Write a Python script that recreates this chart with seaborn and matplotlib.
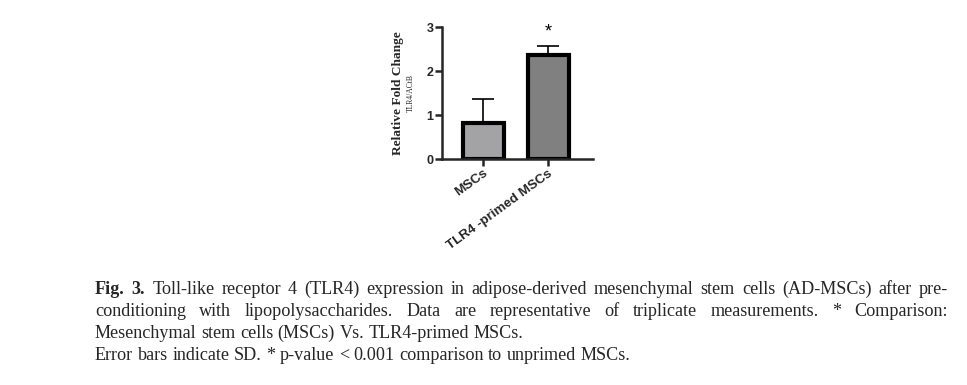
import numpy as np
import pandas as pd
import matplotlib
matplotlib.use("Agg")
import matplotlib.pyplot as plt
import seaborn as sns

# data
groups = ["MSCs", "TLR4 -primed MSCs"]
fold_change = [0.82, 2.37]
sd = [0.54, 0.20]
bar_colors = ["#a2a2a6", "#808080"]
stars = ["", "*"]

caption_lines = [
    "Toll-like receptor 4 (TLR4) expression in adipose-derived mesenchymal stem cells (AD-MSCs) after pre-",
    "conditioning with lipopolysaccharides. Data are representative of triplicate measurements. * Comparison:",
    "Mesenchymal stem cells (MSCs) Vs. TLR4-primed MSCs.",
    "Error bars indicate SD. * p-value < 0.001 comparison to unprimed MSCs.",
]
caption_prefix = "Fig. 3."

df = pd.DataFrame({"group": groups, "value": fold_change})

sns.set_style("ticks")
plt.rcParams["font.family"] = ["Liberation Sans", "DejaVu Sans"]

W, H = 967, 385
fig = plt.figure(figsize=(W / 100, H / 100), dpi=100)
fig.patch.set_facecolor("white")

ax = fig.add_axes([442 / W, (H - 159) / H, (593 - 442) / W, (159 - 27) / H])
sns.barplot(data=df, x="group", y="value", hue="group", palette=bar_colors,
            width=0.63, edgecolor="black", linewidth=3, legend=False, ax=ax)
ax.errorbar(range(len(groups)), fold_change, yerr=[np.zeros(len(sd)), sd],
            fmt="none", ecolor="black", elinewidth=1.2, capsize=8, capthick=1.2, zorder=1)
for i, s in enumerate(stars):
    if s:
        ax.text(i, fold_change[i] + sd[i] + 0.12, s, ha="center", va="bottom",
                fontsize=13, color="black")

ax.set_xlim(-0.63, 1.69)
ax.set_ylim(0, 3)
ax.set_yticks([0, 1, 2, 3])
sns.despine(ax=ax)
for sp in ["left", "bottom"]:
    ax.spines[sp].set_linewidth(1.8)
ax.tick_params(axis="both", width=1.8, length=5, labelsize=9, pad=1)
for lab in ax.get_yticklabels():
    lab.set_fontweight("bold")
ax.set_xticks(range(len(groups)))
ax.set_xticklabels(groups, rotation=36, ha="right", rotation_mode="anchor",
                   fontweight="bold", fontsize=9.6)
ax.set_xlabel("")
ax.set_ylabel("")
fig.text(398 / W, 1 - 93 / H, "Relative Fold Change", rotation=90, ha="center", va="center",
         family="Liberation Serif", fontweight="bold", fontsize=9.6)
fig.text(411 / W, 1 - 93 / H, "TLR4/ACtB", rotation=90, ha="center", va="center",
         family="Liberation Serif", fontsize=5.5)

# caption, first two lines justified
renderer = fig.canvas.get_renderer()
left, right = 95, 948
line_y = [289, 311, 333, 356]
fs = 13.1


def width_px(s, **kw):
    t = fig.text(0, 0, s, family="Liberation Serif", fontsize=fs, **kw)
    w = t.get_window_extent(renderer).width
    t.remove()
    return w


for k, line in enumerate(caption_lines):
    y = 1 - line_y[k] / H
    words = line.split(" ")
    bold = [False] * len(words)
    if k == 0:
        words = caption_prefix.split(" ") + words
        bold = [True, True] + bold
    widths = [width_px(w_, fontweight="bold" if b else "normal") for w_, b in zip(words, bold)]
    space = width_px("a b") - width_px("ab")
    if k < 2:
        gap = (right - left - sum(widths)) / (len(words) - 1)
    else:
        gap = space
    x = left
    for w_, b, wd in zip(words, bold, widths):
        fig.text(x / W, y, w_, family="Liberation Serif", fontsize=fs,
                 fontweight="bold" if b else "normal", va="center", ha="left")
        x += wd + gap

fig.savefig("out.png", dpi=100, facecolor="white")
